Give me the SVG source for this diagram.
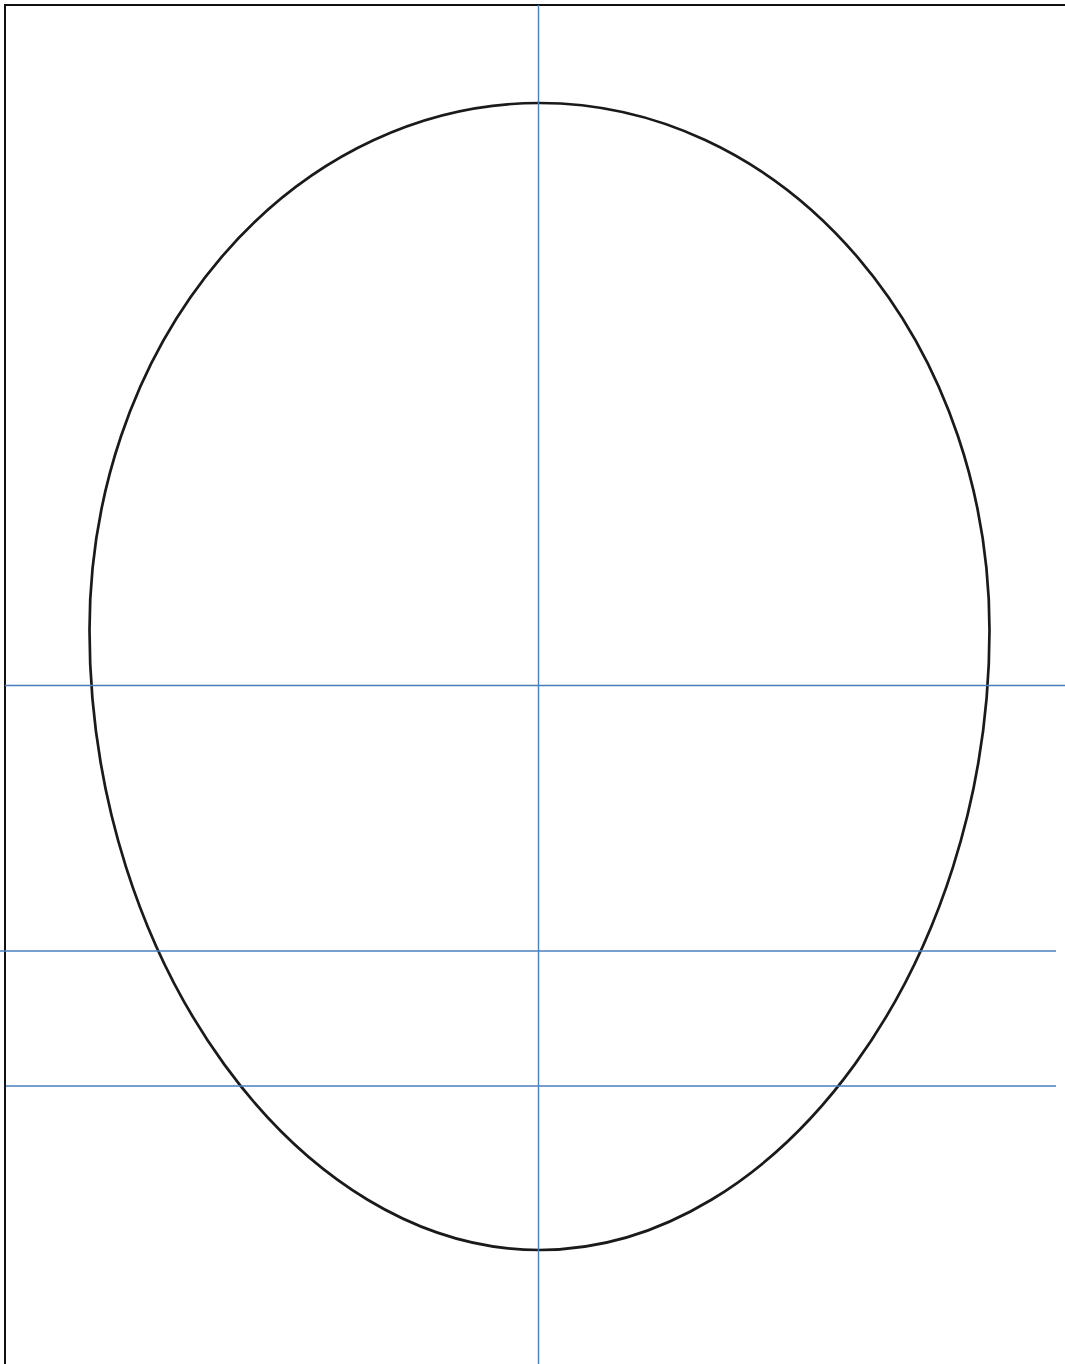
<svg xmlns="http://www.w3.org/2000/svg" width="1065" height="1364" viewBox="0 0 1065 1364">
<style>
.border{stroke:#111;stroke-width:2;fill:none}
.guide{stroke:#4a7ebb;stroke-width:1.4;fill:none}
.egg{stroke:#1a1a1a;stroke-width:2.7;fill:none}
</style>
<rect width="1065" height="1364" fill="#fff"/>
<g id="frame">
<path class="border" d="M5 1364 V5 H1065"/>
</g>
<g id="egg">
<path class="egg" d="M89.5 630 A450 527 0 0 1 989.5 630 C989.5 961.7 780.25 1250 539.5 1250 C298.75 1250 89.5 961.7 89.5 630 Z"/>
</g>
<g id="guides">
<line class="guide" x1="538.5" y1="5" x2="538.5" y2="1364"/>
<line class="guide" x1="5" y1="685.5" x2="1065" y2="685.5"/>
<line class="guide" x1="0" y1="951" x2="1056" y2="951"/>
<line class="guide" x1="6" y1="1086" x2="1056" y2="1086"/>
</g>
</svg>
